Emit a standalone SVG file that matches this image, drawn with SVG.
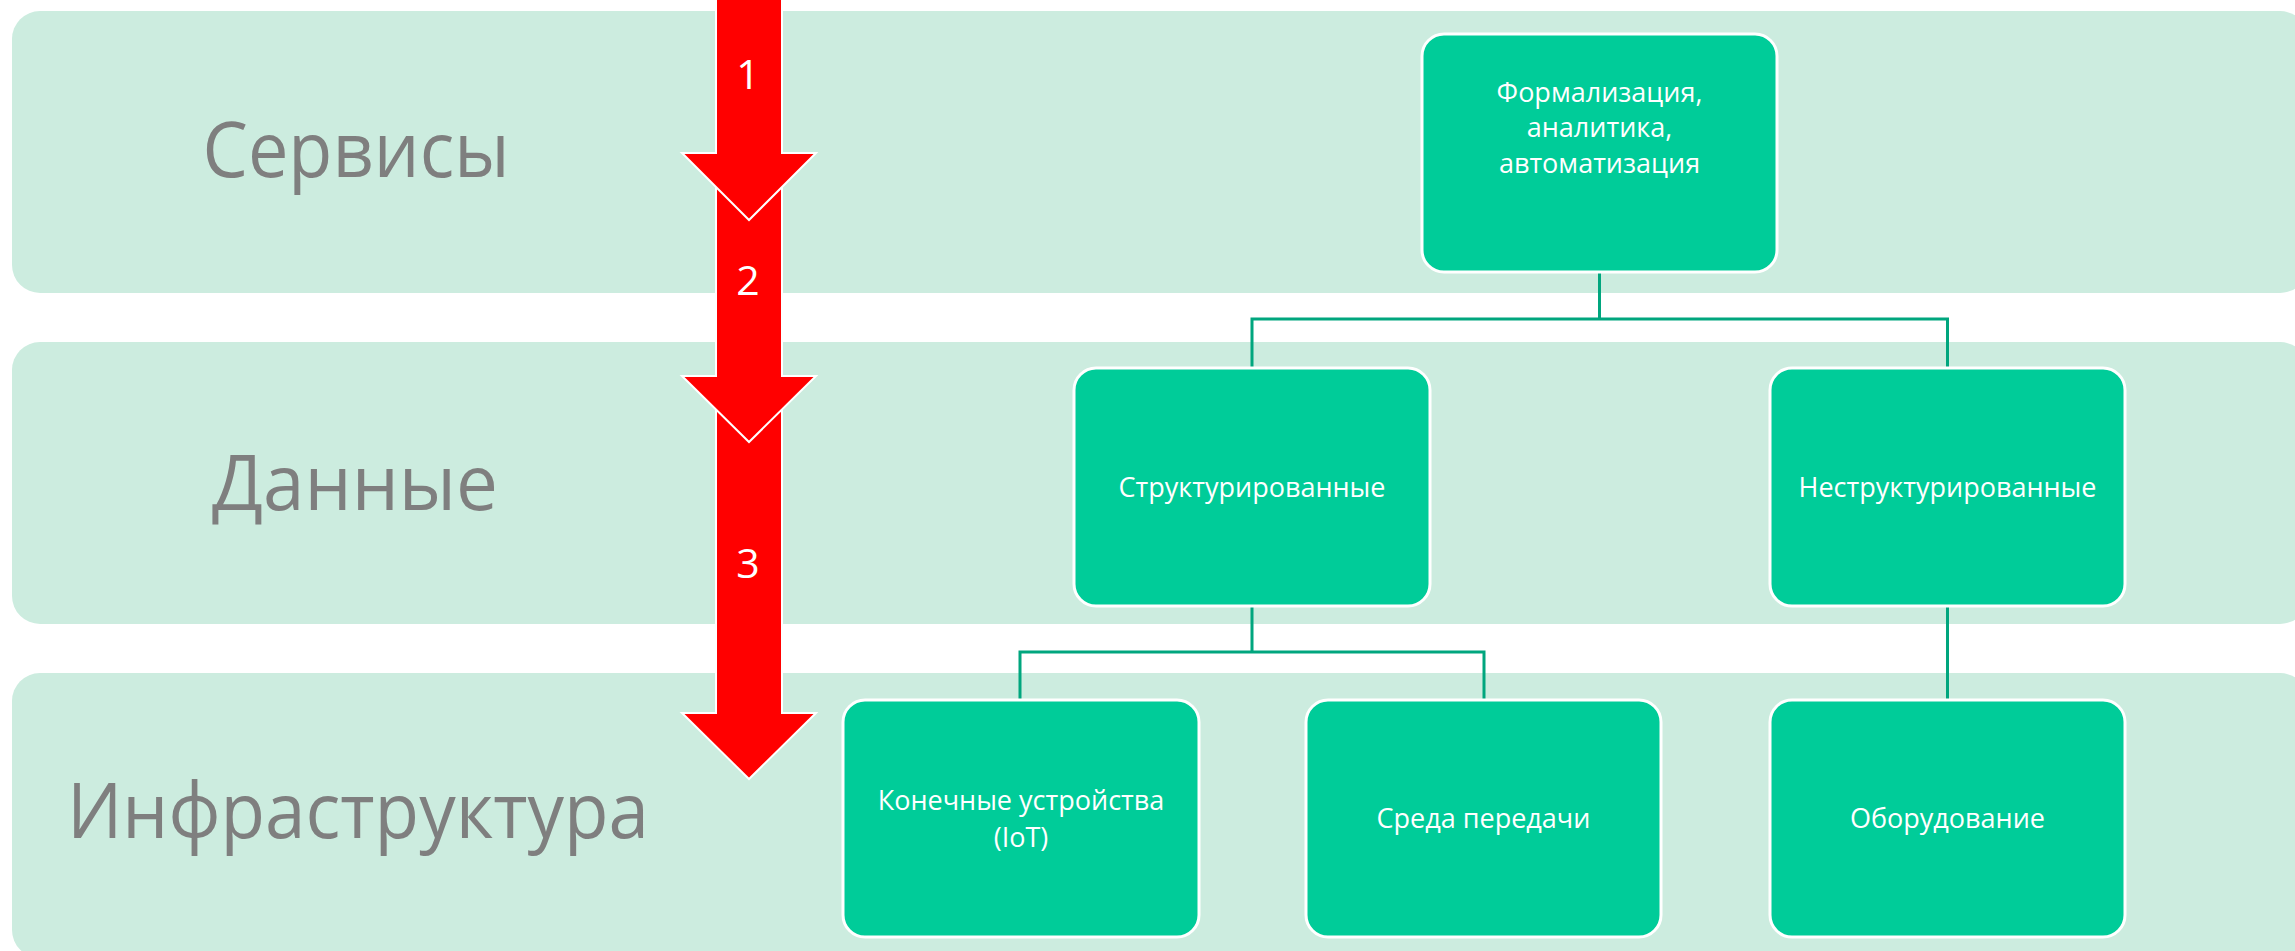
<svg xmlns="http://www.w3.org/2000/svg" width="2295" height="951" viewBox="0 0 2295 951">
  <style>
    .band { fill: #CCECDF; }
    .bandlabel { font-family: "Open Sans", "Liberation Sans", sans-serif; font-weight: 400; font-size: 76px; fill: #7F7F7F; text-anchor: middle; }
    .node rect { fill: #00CC99; stroke: #FFFFFF; stroke-width: 3; }
    .node text { font-family: "Open Sans", "Liberation Sans", sans-serif; font-size: 27px; fill: #FFFFFF; text-anchor: middle; }
    .conn { fill: none; stroke: #00A67E; stroke-width: 3; }
    .arrow polygon { fill: #FF0000; stroke: #FFFFFF; stroke-width: 2; stroke-linejoin: miter; }
    .arrow text { font-family: "Open Sans", "Liberation Sans", sans-serif; font-size: 41px; fill: #FFFFFF; text-anchor: middle; }
  </style>
  <rect x="0" y="0" width="2295" height="951" fill="#FFFFFF"/>

  <g id="band-services">
    <rect class="band" x="12" y="11" width="2296" height="282" rx="28" ry="28"/>
    <text class="bandlabel" x="356" y="177" textLength="307" lengthAdjust="spacingAndGlyphs">Сервисы</text>
  </g>
  <g id="band-data">
    <rect class="band" x="12" y="342" width="2296" height="282" rx="28" ry="28"/>
    <text class="bandlabel" x="355" y="510" textLength="286" lengthAdjust="spacingAndGlyphs">Данные</text>
  </g>
  <g id="band-infra">
    <rect class="band" x="12" y="673" width="2296" height="285" rx="28" ry="28"/>
    <text class="bandlabel" x="358" y="838" textLength="582" lengthAdjust="spacingAndGlyphs">Инфраструктура</text>
  </g>

  <g id="arrow-3" class="arrow">
    <polygon points="716,400 782,400 782,713 816,713 749,779 682,713 716,713"/>
    <text x="748" y="578">3</text>
  </g>
  <g id="arrow-2" class="arrow">
    <polygon points="716,170 782,170 782,376 816,376 749,442 682,376 716,376"/>
    <text x="748" y="295">2</text>
  </g>
  <g id="arrow-1" class="arrow">
    <polygon points="716,-10 782,-10 782,153 816,153 749,220 682,153 716,153"/>
    <text x="748" y="89">1</text>
  </g>

  <g id="connectors">
    <path class="conn" d="M1599.5,272 V319 M1252,368 V319 H1947.5 V368"/>
    <path class="conn" d="M1252,606 V652 M1020,700 V652 H1484 V700"/>
    <path class="conn" d="M1947.5,606 V700"/>
  </g>

  <g id="node-formalization" class="node">
    <rect x="1422" y="34" width="355" height="238" rx="22" ry="22"/>
    <text x="1599.5" y="102">Формализация,</text>
    <text x="1599.5" y="137">аналитика,</text>
    <text x="1599.5" y="173">автоматизация</text>
  </g>
  <g id="node-structured" class="node">
    <rect x="1074" y="368" width="356" height="238" rx="22" ry="22"/>
    <text x="1252" y="497">Структурированные</text>
  </g>
  <g id="node-unstructured" class="node">
    <rect x="1770" y="368" width="355" height="238" rx="22" ry="22"/>
    <text x="1947.5" y="497">Неструктурированные</text>
  </g>
  <g id="node-devices" class="node">
    <rect x="843" y="700" width="356" height="237" rx="22" ry="22"/>
    <text x="1021" y="810">Конечные устройства</text>
    <text x="1021" y="847">(IoT)</text>
  </g>
  <g id="node-medium" class="node">
    <rect x="1306" y="700" width="355" height="237" rx="22" ry="22"/>
    <text x="1483.5" y="828">Среда передачи</text>
  </g>
  <g id="node-equipment" class="node">
    <rect x="1770" y="700" width="355" height="237" rx="22" ry="22"/>
    <text x="1947.5" y="828">Оборудование</text>
  </g>
</svg>
